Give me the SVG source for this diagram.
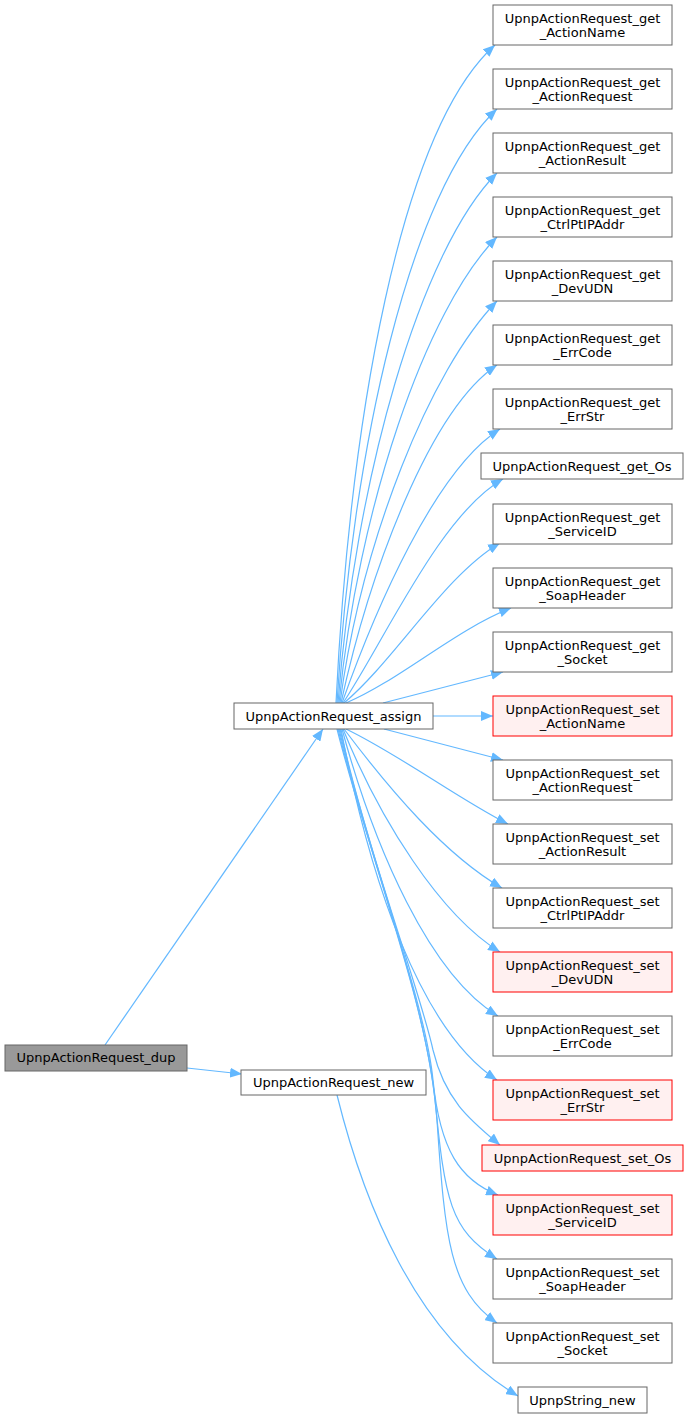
<svg xmlns="http://www.w3.org/2000/svg" width="689" height="1418" viewBox="0 0 689 1418">
<style>
.n rect{fill:#ffffff;stroke:#666666;stroke-width:1}
.r rect{fill:#fff0f0;stroke:#ff0000;stroke-width:1}
.h rect{fill:#999999;stroke:#666666;stroke-width:1}
text{font-family:"DejaVu Sans","Liberation Sans",sans-serif;font-size:13px;fill:#000000;text-anchor:middle}
#edges path{fill:none;stroke:#63b8ff;stroke-width:1.2;marker-end:url(#arr)}
</style>
<defs>
<marker id="arr" markerUnits="userSpaceOnUse" markerWidth="12" markerHeight="10" viewBox="0 0 12 10" refX="12" refY="5" orient="auto">
<path d="M0,0 L12,5 L0,10 Z" fill="#63b8ff"/>
</marker>
</defs>
<rect width="689" height="1418" fill="#ffffff"/>
<g id="edges">
<path d="M105,1045 L323,729"/>
<path d="M187,1068 L242,1074"/>
<path d="M337,1095 C363,1200 415,1335 518,1396"/>
<path d="M336,703 C350,420 400,130 495,45"/>
<path d="M337,703 C352,450 410,190 497,109"/>
<path d="M338,703 C355,480 420,250 497,173"/>
<path d="M339,703 C358,510 425,310 497,237"/>
<path d="M340,703 C362,540 430,370 497,301"/>
<path d="M341,703 C370,570 430,410 497,365"/>
<path d="M342,703 C375,610 435,470 500,429"/>
<path d="M343,703 C385,640 440,515 503,479"/>
<path d="M344,703 C395,660 445,575 500,543"/>
<path d="M346,703 C400,680 455,630 511,608"/>
<path d="M383,703 L503,672"/>
<path d="M433,716 L493,716"/>
<path d="M384,729 L503,760"/>
<path d="M346,729 C400,755 460,800 508,824"/>
<path d="M344,729 C390,790 445,855 502,888"/>
<path d="M343,729 C380,820 440,915 500,952"/>
<path d="M342,729 C375,850 430,975 498,1016"/>
<path d="M341,729 C370,880 420,1030 497,1080"/>
<path d="M340,729 C370,860 420,990 433,1050 C445,1100 470,1120 500,1145"/>
<path d="M339,729 C370,860 425,1000 433,1080 C440,1150 460,1180 498,1195"/>
<path d="M338,729 C370,860 425,1000 435,1100 C445,1200 450,1230 497,1259"/>
<path d="M337,729 C370,860 428,1000 437,1120 C445,1240 450,1290 497,1323"/>
</g>
<g id="dup" class="h"><rect x="5" y="1045" width="182" height="26"/><text x="96" y="1062">UpnpActionRequest_dup</text></g>
<g id="assign" class="n"><rect x="234" y="703" width="199" height="26"/><text x="333.5" y="720.5">UpnpActionRequest_assign</text></g>
<g id="new" class="n"><rect x="241" y="1070" width="185" height="25"/><text x="333.5" y="1087">UpnpActionRequest_new</text></g>
<g id="get_ActionName" class="n"><rect x="493" y="5" width="179" height="40"/><text x="582.5" y="23">UpnpActionRequest_get</text><text x="582.5" y="37">_ActionName</text></g>
<g id="get_ActionRequest" class="n"><rect x="493" y="69" width="179" height="40"/><text x="582.5" y="87">UpnpActionRequest_get</text><text x="582.5" y="101">_ActionRequest</text></g>
<g id="get_ActionResult" class="n"><rect x="493" y="133" width="179" height="40"/><text x="582.5" y="151">UpnpActionRequest_get</text><text x="582.5" y="165">_ActionResult</text></g>
<g id="get_CtrlPtIPAddr" class="n"><rect x="493" y="197" width="179" height="40"/><text x="582.5" y="215">UpnpActionRequest_get</text><text x="582.5" y="229">_CtrlPtIPAddr</text></g>
<g id="get_DevUDN" class="n"><rect x="493" y="261" width="179" height="40"/><text x="582.5" y="279">UpnpActionRequest_get</text><text x="582.5" y="293">_DevUDN</text></g>
<g id="get_ErrCode" class="n"><rect x="493" y="325" width="179" height="40"/><text x="582.5" y="343">UpnpActionRequest_get</text><text x="582.5" y="357">_ErrCode</text></g>
<g id="get_ErrStr" class="n"><rect x="493" y="389" width="179" height="40"/><text x="582.5" y="407">UpnpActionRequest_get</text><text x="582.5" y="421">_ErrStr</text></g>
<g id="get_Os" class="n"><rect x="481" y="453" width="202" height="26"/><text x="582" y="470.5">UpnpActionRequest_get_Os</text></g>
<g id="get_ServiceID" class="n"><rect x="493" y="504" width="179" height="40"/><text x="582.5" y="522">UpnpActionRequest_get</text><text x="582.5" y="536">_ServiceID</text></g>
<g id="get_SoapHeader" class="n"><rect x="493" y="568" width="179" height="40"/><text x="582.5" y="586">UpnpActionRequest_get</text><text x="582.5" y="600">_SoapHeader</text></g>
<g id="get_Socket" class="n"><rect x="493" y="632" width="179" height="40"/><text x="582.5" y="650">UpnpActionRequest_get</text><text x="582.5" y="664">_Socket</text></g>
<g id="set_ActionName" class="r"><rect x="493" y="696" width="179" height="40"/><text x="582.5" y="714">UpnpActionRequest_set</text><text x="582.5" y="728">_ActionName</text></g>
<g id="set_ActionRequest" class="n"><rect x="493" y="760" width="179" height="40"/><text x="582.5" y="778">UpnpActionRequest_set</text><text x="582.5" y="792">_ActionRequest</text></g>
<g id="set_ActionResult" class="n"><rect x="493" y="824" width="179" height="40"/><text x="582.5" y="842">UpnpActionRequest_set</text><text x="582.5" y="856">_ActionResult</text></g>
<g id="set_CtrlPtIPAddr" class="n"><rect x="493" y="888" width="179" height="40"/><text x="582.5" y="906">UpnpActionRequest_set</text><text x="582.5" y="920">_CtrlPtIPAddr</text></g>
<g id="set_DevUDN" class="r"><rect x="493" y="952" width="179" height="40"/><text x="582.5" y="970">UpnpActionRequest_set</text><text x="582.5" y="984">_DevUDN</text></g>
<g id="set_ErrCode" class="n"><rect x="493" y="1016" width="179" height="40"/><text x="582.5" y="1034">UpnpActionRequest_set</text><text x="582.5" y="1048">_ErrCode</text></g>
<g id="set_ErrStr" class="r"><rect x="493" y="1080" width="179" height="40"/><text x="582.5" y="1098">UpnpActionRequest_set</text><text x="582.5" y="1112">_ErrStr</text></g>
<g id="set_Os" class="r"><rect x="482" y="1145" width="201" height="26"/><text x="582.5" y="1162.5">UpnpActionRequest_set_Os</text></g>
<g id="set_ServiceID" class="r"><rect x="493" y="1195" width="179" height="40"/><text x="582.5" y="1213">UpnpActionRequest_set</text><text x="582.5" y="1227">_ServiceID</text></g>
<g id="set_SoapHeader" class="n"><rect x="493" y="1259" width="179" height="40"/><text x="582.5" y="1277">UpnpActionRequest_set</text><text x="582.5" y="1291">_SoapHeader</text></g>
<g id="set_Socket" class="n"><rect x="493" y="1323" width="179" height="40"/><text x="582.5" y="1341">UpnpActionRequest_set</text><text x="582.5" y="1355">_Socket</text></g>
<g id="UpnpString_new" class="n"><rect x="518" y="1387" width="129" height="26"/><text x="582.5" y="1404.5">UpnpString_new</text></g>
</svg>
